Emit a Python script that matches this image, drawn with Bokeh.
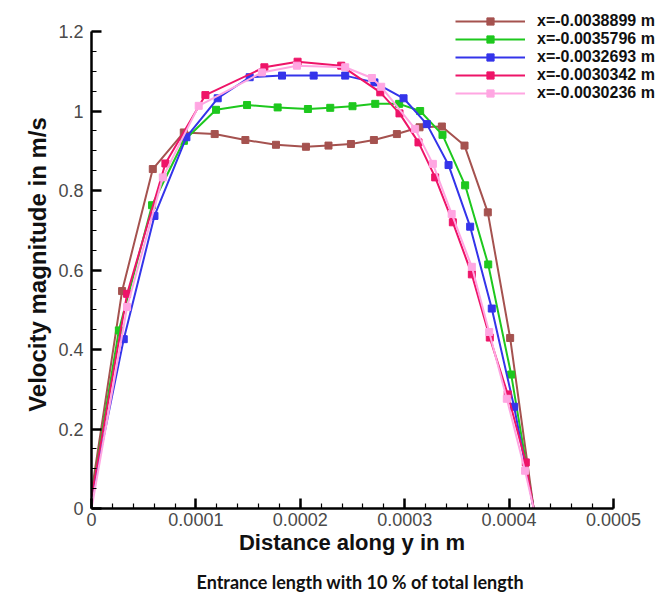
from bokeh.plotting import figure
from bokeh.models import Range1d, FixedTicker, Legend, LegendItem, Title
from bokeh.embed import file_html
from bokeh.resources import INLINE
import numpy as np

# ---------------- data ----------------
series_names = ["x=-0.0038899 m", "x=-0.0035796 m", "x=-0.0032693 m",
                "x=-0.0030342 m", "x=-0.0030236 m"]
series_colors = ["#a5524f", "#1ec81e", "#3434ea", "#ee1468", "#ffa6e2"]

brown_x = [0, 0.0000293, 0.0000587, 0.0000884, 0.000118, 0.0001474, 0.0001767, 0.0002054,
           0.000227, 0.0002485, 0.0002705, 0.0002925, 0.0003142, 0.0003356, 0.0003573,
           0.0003796, 0.000401, 0.0004235]
brown_y = [0.04, 0.547, 0.854, 0.946, 0.942, 0.927, 0.915, 0.910, 0.913, 0.917, 0.927,
           0.942, 0.959, 0.961, 0.913, 0.745, 0.429, 0.0]

green_x = [0, 0.0000262, 0.000058, 0.0000885, 0.0001193, 0.000149, 0.0001783, 0.0002073,
           0.0002287, 0.00025, 0.0002718, 0.0002947, 0.0003148, 0.0003362, 0.0003579,
           0.00038, 0.000402, 0.0004235]
green_y = [0.03, 0.448, 0.763, 0.925, 1.003, 1.015, 1.009, 1.005, 1.008, 1.012, 1.018,
           1.018, 1.0, 0.940, 0.813, 0.614, 0.337, 0.0]

blue_x = [0, 0.0000309, 0.0000603, 0.0000909, 0.0001209, 0.0001515, 0.0001825, 0.0002128,
          0.000243, 0.000271, 0.0002989, 0.0003212, 0.000342, 0.0003627, 0.0003834,
          0.0004048, 0.0004235]
blue_y = [0.03, 0.426, 0.736, 0.934, 1.032, 1.085, 1.089, 1.089, 1.089, 1.072, 1.032,
          0.967, 0.864, 0.709, 0.503, 0.256, 0.0]

red_x = [0, 0.0000341, 0.0000708, 0.0001091, 0.0001656, 0.0001974, 0.0002392, 0.0002766,
         0.000295, 0.0003132, 0.0003292, 0.0003461, 0.0003643, 0.0003815, 0.0003987,
         0.000416, 0.0004235]
red_y = [0.03, 0.540, 0.868, 1.040, 1.110, 1.124, 1.114, 1.047, 0.994, 0.921, 0.833,
         0.720, 0.589, 0.430, 0.287, 0.116, 0.0]

pink_x = [0, 0.0000341, 0.0000683, 0.0001027, 0.0001633, 0.0001968, 0.000243, 0.0002686,
          0.0002775, 0.00031, 0.000327, 0.000345, 0.0003643, 0.0003809, 0.0003978,
          0.0004153, 0.0004235]
pink_y = [0.0, 0.507, 0.833, 1.013, 1.097, 1.114, 1.110, 1.083, 1.061, 0.955, 0.867,
          0.741, 0.608, 0.444, 0.276, 0.095, 0.0]

x_ticks = [0, 0.0001, 0.0002, 0.0003, 0.0004, 0.0005]
x_tick_labels = ["0", "0.0001", "0.0002", "0.0003", "0.0004", "0.0005"]
y_ticks = [0, 0.2, 0.4, 0.6, 0.8, 1.0, 1.2]
y_tick_labels = ["0", "0.2", "0.4", "0.6", "0.8", "1", "1.2"]

x_label = "Distance along y in m"
y_label = "Velocity magnitude in m/s"
title_text = "Entrance length with 10 % of total length"

# ---------------- layout ----------------
FRAME_W, FRAME_H = 570, 508      # drawing area (legend sits inside it, top right)
AXIS_W, AXIS_H = 522, 477        # length of the visible axes inside that area
x_end = x_ticks[-1] * FRAME_W / AXIS_W
y_end = y_ticks[-1] * FRAME_H / AXIS_H

NBSP = "\u00a0"
p = figure(frame_width=FRAME_W, frame_height=FRAME_H, output_backend="svg",
           toolbar_location=None,
           x_range=Range1d(0, x_end), y_range=Range1d(0, y_end),
           min_border_left=91, min_border_right=0, min_border_top=0,
           min_border_bottom=0)
p.xgrid.visible = False
p.ygrid.visible = False
p.outline_line_color = None
p.background_fill_color = "white"
p.border_fill_color = "white"

FONT = "Liberation Sans"
for ax, ticks, labels, nminor in ((p.xaxis[0], x_ticks, x_tick_labels, 25),
                                  (p.yaxis[0], y_ticks, y_tick_labels, 24)):
    ax.ticker = FixedTicker(ticks=ticks,
                            minor_ticks=list(np.linspace(ticks[0], ticks[-1], nminor + 1)))
    ax.bounds = (ticks[0], ticks[-1])
    ax.major_label_overrides = dict(zip(ticks, labels))
    ax.axis_line_color = "black"
    ax.axis_line_width = 2.5
    ax.major_tick_line_color = "black"
    ax.major_tick_line_width = 2.5
    ax.major_tick_in = 10
    ax.major_tick_out = 0
    ax.minor_tick_line_color = "black"
    ax.minor_tick_line_width = 1.2
    ax.minor_tick_in = 5
    ax.minor_tick_out = 0
    ax.major_label_text_font = FONT
    ax.major_label_text_font_size = "18px"
    ax.major_label_text_color = "#4a4a4a"
    ax.axis_label_text_font = FONT
    ax.axis_label_text_font_style = "bold"
    ax.axis_label_text_color = "#111111"

p.xaxis.axis_label = x_label + NBSP * 8
p.yaxis.axis_label = y_label + NBSP * 3
p.xaxis.axis_label_text_font_size = "22px"
p.yaxis.axis_label_text_font_size = "24px"
p.xaxis.major_label_standoff = 4
p.xaxis.axis_label_standoff = 1
p.yaxis.major_label_standoff = 8
p.yaxis.axis_label_standoff = 4

series = [(brown_x, brown_y), (green_x, green_y), (blue_x, blue_y),
          (red_x, red_y), (pink_x, pink_y)]
items = []
for (xs, ys), name, col in zip(series, series_names, series_colors):
    lr = p.line(xs, ys, line_color=col, line_width=2)
    sr = p.scatter(xs[1:-1], ys[1:-1], marker="square", size=7,
                   fill_color=col, line_color=col)
    items.append(LegendItem(label=name, renderers=[lr, sr]))

legend = Legend(items=items, location=(362, 404), glyph_width=70, glyph_height=18,
                label_height=18, spacing=0, padding=2, margin=0, label_standoff=12,
                label_text_font=FONT, label_text_font_style="bold",
                label_text_font_size="16px", label_text_color="#111111",
                background_fill_alpha=0, border_line_alpha=0)
p.add_layout(legend)

title = Title(text=title_text, align="left", offset=105, text_font="Lato",
              text_font_style="bold", text_font_size="18px",
              text_color="#111111", standoff=22)
p.add_layout(title, "below")

open("out.html", "w").write(file_html(p, INLINE))
